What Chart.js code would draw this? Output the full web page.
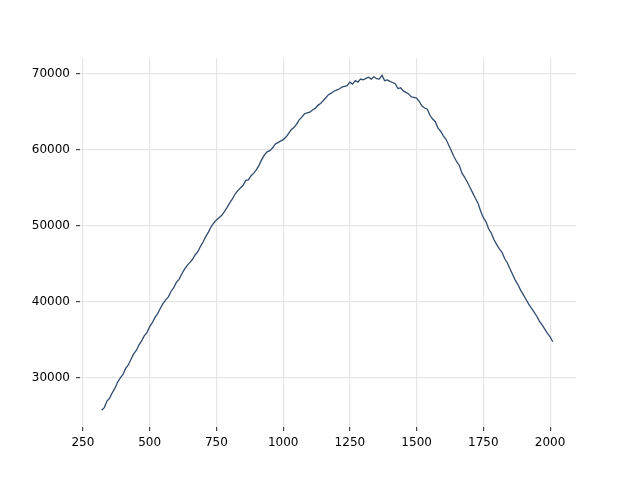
<!DOCTYPE html>
<html>
<head>
<meta charset="utf-8">
<script src="https://cdn.jsdelivr.net/npm/chart.js@4/dist/chart.umd.min.js"></script>
<style>
  html, body { margin: 0; padding: 0; background: #fff; }
  #wrap { width: 640px; height: 480px; }
</style>
</head>
<body>
<div id="wrap"><canvas id="lineChart" width="640" height="480"></canvas></div>
<script>
// values, every 10 units along x
const xValues = [
  320, 330, 340, 350, 360, 370, 380, 390, 400, 410, 420, 430, 440, 450, 460, 470, 480, 490, 500, 510,
  520, 530, 540, 550, 560, 570, 580, 590, 600, 610, 620, 630, 640, 650, 660, 670, 680, 690, 700, 710,
  720, 730, 740, 750, 760, 770, 780, 790, 800, 810, 820, 830, 840, 850, 860, 870, 880, 890, 900, 910,
  920, 930, 940, 950, 960, 970, 980, 990, 1000, 1010, 1020, 1030, 1040, 1050, 1060, 1070, 1080, 1090, 1100, 1110,
  1120, 1130, 1140, 1150, 1160, 1170, 1180, 1190, 1200, 1210, 1220, 1230, 1240, 1250, 1260, 1270, 1280, 1290, 1300, 1310,
  1320, 1330, 1340, 1350, 1360, 1370, 1380, 1390, 1400, 1410, 1420, 1430, 1440, 1450, 1460, 1470, 1480, 1490, 1500, 1510,
  1520, 1530, 1540, 1550, 1560, 1570, 1580, 1590, 1600, 1610, 1620, 1630, 1640, 1650, 1660, 1670, 1680, 1690, 1700, 1710,
  1720, 1730, 1740, 1750, 1760, 1770, 1780, 1790, 1800, 1810, 1820, 1830, 1840, 1850, 1860, 1870, 1880, 1890, 1900, 1910,
  1920, 1930, 1940, 1950, 1960, 1970, 1980, 1990, 2000, 2010
];
const yValues = [
  25750, 26100, 26950, 27350, 28050, 28650, 29450, 30000, 30450, 31250, 31700, 32450, 33150, 33600, 34350, 34850, 35550, 35950, 36750, 37250,
  37950, 38450, 39150, 39750, 40250, 40650, 41350, 41850, 42550, 42950, 43650, 44250, 44750, 45150, 45550, 46150, 46550, 47250, 47850, 48550,
  49150, 49850, 50350, 50750, 51050, 51350, 51850, 52400, 53000, 53500, 54150, 54600, 54950, 55300, 55950, 56000, 56550, 56900, 57350, 57950,
  58700, 59300, 59700, 59850, 60200, 60700, 60900, 61100, 61300, 61600, 62100, 62600, 62900, 63300, 63900, 64250, 64700, 64800, 64900, 65200,
  65400, 65800, 66050, 66400, 66800, 67200, 67400, 67650, 67800, 67950, 68200, 68300, 68400, 68850, 68600, 69050, 68850, 69250, 69150, 69350,
  69500, 69250, 69550, 69300, 69250, 69750, 69050, 69150, 68950, 68800, 68650, 68000, 68100, 67700, 67500, 67300, 66900, 66850, 66750, 66300,
  65700, 65450, 65300, 64500, 64000, 63650, 62800, 62400, 61800, 61350, 60600, 59850, 59050, 58400, 57900, 56900, 56350, 55700, 55000, 54300,
  53600, 52950, 51900, 51050, 50500, 49550, 49000, 48150, 47500, 46950, 46500, 45650, 45100, 44300, 43550, 42800, 42200, 41500, 40900, 40300,
  39700, 39150, 38650, 38100, 37450, 36950, 36400, 35850, 35400, 34750
];
const xTicks = [250, 500, 750, 1000, 1250, 1500, 1750, 2000];
const yTicks = [30000, 40000, 50000, 60000, 70000];

const points = xValues.map((x, i) => ({ x: x, y: yValues[i] }));

new Chart(document.getElementById("lineChart"), {
  type: "line",
  data: {
    datasets: [
      {
        data: points,
        borderColor: "#2f4b6e",
        borderWidth: 1.3,
        pointRadius: 0,
        tension: 0,
        fill: false,
      },
    ],
  },
  options: {
    responsive: false,
    animation: false,
    layout: { padding: { top: 58, right: 64, left: 0, bottom: 0 } },
    plugins: { legend: { display: false }, tooltip: { enabled: false } },
    scales: {
      x: {
        type: "linear",
        min: 239,
        max: 2097,
        afterBuildTicks: axis => { axis.ticks = xTicks.map(v => ({ value: v })); },
        afterFit: axis => { axis.height = 53; },
        border: { display: false },
        grid: { color: "#e6e6e6", lineWidth: 1.2, tickColor: "#444", tickLength: 4 },
        ticks: { color: "#000", padding: 5, maxRotation: 0, font: { family: "DejaVu Sans", size: 12 }, callback: v => String(v) },
      },
      y: {
        type: "linear",
        min: 23550,
        max: 72020,
        afterBuildTicks: axis => { axis.ticks = yTicks.map(v => ({ value: v })); },
        afterFit: axis => { axis.width = 80; },
        border: { display: false },
        grid: { color: "#e6e6e6", lineWidth: 1.2, tickColor: "#444", tickLength: 4 },
        ticks: { color: "#000", padding: 6, font: { family: "DejaVu Sans", size: 12 }, callback: v => String(v) },
      },
    },
  },
});
</script>
</body>
</html>
